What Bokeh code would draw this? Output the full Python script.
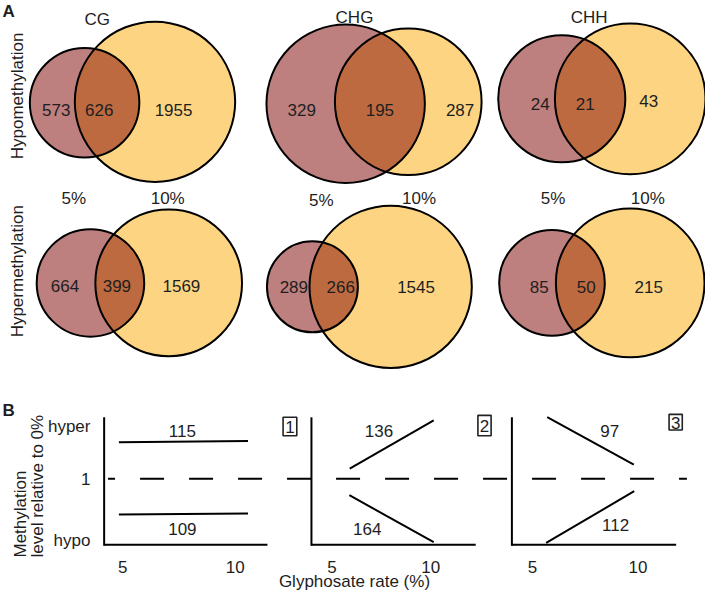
import math
from bokeh.plotting import figure
from bokeh.models import Range1d
from bokeh.core.properties import value
from bokeh.embed import file_html
from bokeh.resources import INLINE

# ---------------- data ----------------
contexts = ["CG", "CHG", "CHH"]
hypo_only_5 = [573, 329, 24]
hypo_shared = [626, 195, 21]
hypo_only_10 = [1955, 287, 43]
hyper_only_5 = [664, 289, 85]
hyper_shared = [399, 266, 50]
hyper_only_10 = [1569, 1545, 215]
rate_labels = ["5%", "10%"]
row_labels = ["Hypomethylation", "Hypermethylation"]

patterns = ["1", "2", "3"]
pattern_hyper_n = [115, 136, 97]
pattern_hypo_n = [109, 164, 112]
rate_ticks = [5, 10]
level_tick_labels = ["hyper", "1", "hypo"]
level_tick_values = [1.79, 1.0, 0.06]
# schematic trend lines: glyphosate rate (%) -> methylation level relative to 0%
hyper_rate_start = [4.83, 5.90, 5.70]
hyper_rate_end = [10.57, 10.15, 9.80]
hyper_level_start = [1.55, 1.15, 1.93]
hyper_level_end = [1.57, 1.88, 1.21]
hypo_rate_start = [4.83, 5.88, 5.65]
hypo_rate_end = [10.57, 10.15, 9.82]
hypo_level_start = [0.46, 0.75, 0.03]
hypo_level_end = [0.475, 0.04, 0.81]

# ---------------- layout / style ----------------
W, H = 705, 595          # figure size in screen pixels
RW, RH = 721, 611        # layout coordinate frame
FONT = value("Liberation Sans")
TXT = "#1e1e1e"
PINK = (125, 0, 0)
YELLOW = "#fdd582"

p = figure(width=W, height=H, x_range=Range1d(0, RW), y_range=Range1d(RH, 0),
           output_backend="svg", toolbar_location=None, min_border=0,
           x_axis_location=None, y_axis_location=None)
p.grid.visible = False
p.outline_line_color = None
p.background_fill_color = "white"


def text(xs, ys, labels, size="17px", align="center", baseline="middle", angle=0.0,
         style="normal", **kw):
    p.text(x=xs, y=ys, text=[str(t) for t in labels], text_font=FONT,
           text_font_size=value(size), text_align=align, text_baseline=baseline,
           angle=angle, text_color=TXT, text_font_style=style, **kw)


# ---- panel A : Venn diagrams ----
venn_rows = [
    dict(pink_c=[(86, 105), (353, 106), (574, 101)], pink_r=[56, 81, 65],
         yel_c=[(158, 104), (417, 104), (644, 101)], yel_r=[82, 75, 77],
         txt=[[(57, 112), (101, 112), (177, 112)], [(308, 112), (388, 112), (470, 112)],
              [(552, 106), (598, 106), (663, 103)]],
         vals=[hypo_only_5, hypo_shared, hypo_only_10]),
    dict(pink_c=[(92, 290), (319, 294), (564, 290)], pink_r=[55, 46.5, 54],
         yel_c=[(172, 290), (399, 294), (644, 290)], yel_r=[75, 83, 76],
         txt=[[(66, 293), (119, 293), (185, 293)], [(300, 294), (348, 294), (425, 294)],
              [(551, 294), (599, 294), (663, 294)]],
         vals=[hyper_only_5, hyper_shared, hyper_only_10]),
]

for row in venn_rows:
    yx = [c[0] for c in row["yel_c"]]
    yy = [c[1] for c in row["yel_c"]]
    px = [c[0] for c in row["pink_c"]]
    py = [c[1] for c in row["pink_c"]]
    p.circle(x=yx, y=yy, radius=row["yel_r"], fill_color=YELLOW, line_color=None)
    p.circle(x=px, y=py, radius=row["pink_r"], fill_color=PINK, fill_alpha=0.5, line_color=None)
    p.circle(x=yx, y=yy, radius=row["yel_r"], fill_color=None, line_color="black", line_width=2)
    p.circle(x=px, y=py, radius=row["pink_r"], fill_color=None, line_color="black", line_width=2)
    for j in range(3):
        xs = [t[0] for t in row["txt"][j]]
        ys = [t[1] for t in row["txt"][j]]
        text(xs, ys, [row["vals"][k][j] for k in range(3)])

text([99, 362, 602], [20, 17, 17], contexts)
text([75, 328, 565], [203, 205, 203], [rate_labels[0]] * 3)
text([171, 428, 662], [203, 203, 203], [rate_labels[1]] * 3)
text([17, 17], [98, 278], row_labels, angle=math.pi / 2)
text([2], [11], ["A"], size="17px", align="left", style="bold")

# ---- panel B : trend schematics ----
text([2], [421], ["B"], size="17px", align="left", style="bold")
X5 = [125, 339, 544]
X10 = [240, 440, 652]
for i in range(3):
    a = (X10[i] - X5[i]) / 5.0
    p.extra_x_ranges["b%d" % i] = Range1d(5 + (0 - X5[i]) / a, 5 + (RW - X5[i]) / a)
LV0, LVS = 559, 68.0  # layout position of level 0, layout units per level unit
p.extra_y_ranges["lvl"] = Range1d((LV0 - RH) / LVS, (LV0 - 0) / LVS)

# reference line at level 1
p.line(x=[110, 702], y=[1, 1], y_range_name="lvl", line_color="black", line_width=2,
       line_dash="24 25", line_dash_offset=17)

axis_x = [106, 318, 523]
axis_end = [273, 486, 691]
p.segment(x0=axis_x, y0=[428] * 3, x1=axis_x, y1=[560] * 3, line_color="black", line_width=2)
p.segment(x0=axis_x, y0=[559] * 3, x1=axis_end, y1=[559] * 3, line_color="black", line_width=2)

for i in range(3):
    rn = "b%d" % i
    p.segment(x0=[hyper_rate_start[i], hypo_rate_start[i]], y0=[hyper_level_start[i], hypo_level_start[i]],
              x1=[hyper_rate_end[i], hypo_rate_end[i]], y1=[hyper_level_end[i], hypo_level_end[i]],
              x_range_name=rn, y_range_name="lvl", line_color="black", line_width=2)
    text(rate_ticks, [-0.34, -0.34], rate_ticks, x_range_name=rn, y_range_name="lvl")

text([92, 92, 92], level_tick_values, level_tick_labels, align="right", y_range_name="lvl")

text([186, 387, 623], [442, 442, 442], pattern_hyper_n)
text([186, 375, 629], [543, 543, 539], pattern_hypo_n)

box_x = [296, 495, 690.5]
box_y = [437.5, 436.5, 433]
box_h = [19, 21, 16]
p.rect(x=box_x, y=box_y, width=[14, 13.5, 13.5], height=box_h, fill_color=None,
       line_color="#222222", line_width=1.6)
text(box_x, [438, 437, 433.5], patterns)

text([20], [572], ["Methylation"], align="left", angle=math.pi / 2)
text([38], [572], ["level relative to 0%"], align="left", angle=math.pi / 2)
text([362], [597], ["Glyphosate rate (%)"])

open("out.html", "w").write(file_html(p, INLINE))
